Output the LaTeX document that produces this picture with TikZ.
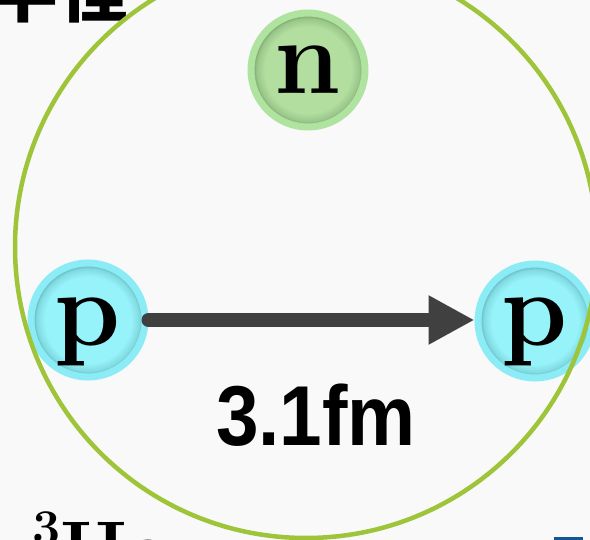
\documentclass[tikz,border=0pt]{standalone}
\usepackage{fontspec}
\usetikzlibrary{arrows.meta}
\newfontfamily\cjk{Noto Sans CJK JP}
\newfontfamily\gothic{Liberation Sans}
\definecolor{bgc}{RGB}{249,249,249}
\definecolor{ringgreen}{RGB}{158,196,58}
\definecolor{pfill}{RGB}{150,243,249}
\definecolor{pring}{RGB}{140,236,246}
\definecolor{pshade}{RGB}{80,160,170}
\definecolor{nfill}{RGB}{178,222,160}
\definecolor{nring}{RGB}{176,226,160}
\definecolor{nshade}{RGB}{100,145,88}
\definecolor{arrowgray}{RGB}{64,64,64}
\definecolor{tabblue}{RGB}{22,84,150}
\pgfdeclareradialshading{pballshade}{\pgfpoint{0bp}{0bp}}{color(0bp)=(pfill); color(19bp)=(pfill); color(22.5bp)=(pfill!70!pshade); color(25bp)=(pshade); color(50bp)=(pshade)}
\pgfdeclareradialshading{nballshade}{\pgfpoint{0bp}{0bp}}{color(0bp)=(nfill); color(19bp)=(nfill); color(22.5bp)=(nfill!70!nshade); color(25bp)=(nshade); color(50bp)=(nshade)}
\tikzset{
  pball/.style={circle, minimum size=114pt, inner sep=0pt, shading=pballshade, draw=pring, line width=7pt},
  nball/.style={circle, minimum size=114pt, inner sep=0pt, shading=nballshade, draw=nring, line width=7pt},
  letter/.style={font=\fontsize{106}{106}\selectfont\bfseries, inner sep=0pt, anchor=base},
  arrowline/.style={draw=arrowgray, line width=14pt, line cap=round, -{Triangle[length=46pt,width=46pt]}},
  ringline/.style={circle, draw=ringgreen, line width=4.5pt, minimum size=582pt, inner sep=0pt}
}
\begin{document}
\begin{tikzpicture}[x=1pt,y=-1pt]
\useasboundingbox (0,0) rectangle (590,540);
\clip (0,0) rectangle (590,540);
\fill[bgc] (0,0) rectangle (590,540);
% partial texts at edges, cut off as in the reference
\node[font=\cjk\bfseries\fontsize{70}{70}\selectfont, anchor=base west, inner sep=0pt] (title) at (-12,17) {半径};
\node[anchor=base west, inner sep=0pt, font=\bfseries] (he) at (32,574) {\raisebox{30pt}{\fontsize{50}{50}\selectfont 3}\fontsize{76}{76}\selectfont He};
\fill[tabblue] (554,537) rectangle (583,545);
% balls
\node[nball] (n) at (308,70) {};
\node[letter] (nl) at ([yshift=-24pt]n.center) {n};
\node[pball] (pl) at (88,320) {};
\node[letter] (pll) at ([yshift=-26pt]pl.center) {p};
\node[pball] (pr) at (535,321) {};
\node[letter] (prl) at ([yshift=-25pt]pr.center) {p};
% arrow
\draw[arrowline] (pl.east) -- (pr.west |- pl.east);
% big ring
\node[ringline] (ring) at (306,247) {};
% distance label
\node[anchor=base, inner sep=0pt, font=\gothic\bfseries\fontsize{85}{85}\selectfont] (dist) at (316,446) {\scalebox{0.9}[1]{3.1fm}};
\end{tikzpicture}
\end{document}
